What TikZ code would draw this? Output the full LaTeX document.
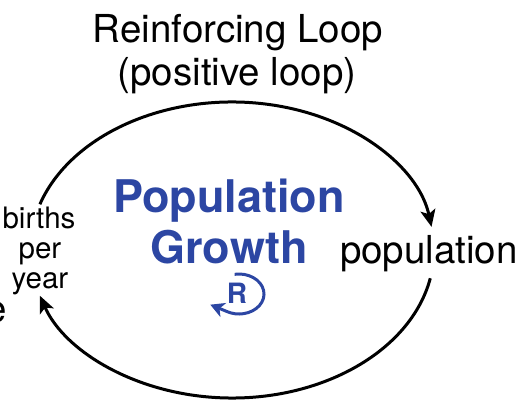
\documentclass[tikz,border=0pt]{standalone}
\usepackage{fontspec}
\setmainfont{TeX Gyre Heros}
\usetikzlibrary{arrows.meta,positioning}
\definecolor{loopblue}{RGB}{44,70,163}

\begin{document}
\begin{tikzpicture}[
        x=1pt, y=1pt,
        lbl/.style={inner sep=0pt, anchor=base, font=\fontsize{38.5}{46}\selectfont},
        var/.style={inner sep=0pt, anchor=base, font=\fontsize{29.5}{30}\selectfont},
        big/.style={inner sep=0pt, anchor=base, text=loopblue, font=\fontsize{45}{50}\selectfont\bfseries},
        link/.style={line width=3pt, -{Stealth[length=17pt, width=15pt, inset=4pt]}},
    ]
        \useasboundingbox (0, 0) rectangle (529, 408);

        % Title
        \node[lbl] (TITLE) at (238, 365) {Reinforcing Loop};
        \node[lbl] (SUBTITLE) at (237, 323) {(positive loop)};

        % Loop name in the middle
        \node[big] (POP) at (229, 196) {Population};
        \node[big] (GROWTH) at (229, 145) {Growth};

        % Variables
        \node[lbl, anchor=base east] (POPULATION) at (518, 145) {population};
        \node[var] (BIRTHS) at (39, 180) {births};
        \node[var] (PER) at (40, 150) {per};
        \node[var] (YEAR) at (40, 120) {year};
        \node[lbl, anchor=base east] (CUT) at (7, 86) {e}; % cut off at the edge

        % Causal links around the loop
        \coordinate (LOOP) at (232, 158);
        \draw[link] ([shift={(162:202 and 148)}]LOOP) arc[start angle=162, end angle=9, x radius=202, y radius=148];
        \draw[link] ([shift={(-11:202 and 148)}]LOOP) arc[start angle=-11, end angle=-162, x radius=202, y radius=148];

        % Loop marker
        \node[inner sep=0pt, anchor=base, text=loopblue, font=\fontsize{28}{28}\selectfont\bfseries] (RMARK) at (237, 105) {R};
        \coordinate (RC) at (239, 114);
        \draw[loopblue, line width=3pt, -{Stealth[length=14pt, width=15pt, inset=4pt]}]
            ([shift={(100:25 and 20)}]RC) arc[start angle=100, end angle=-118, x radius=25, y radius=20] -- ++(-17, 7);
    \end{tikzpicture}
\end{document}
